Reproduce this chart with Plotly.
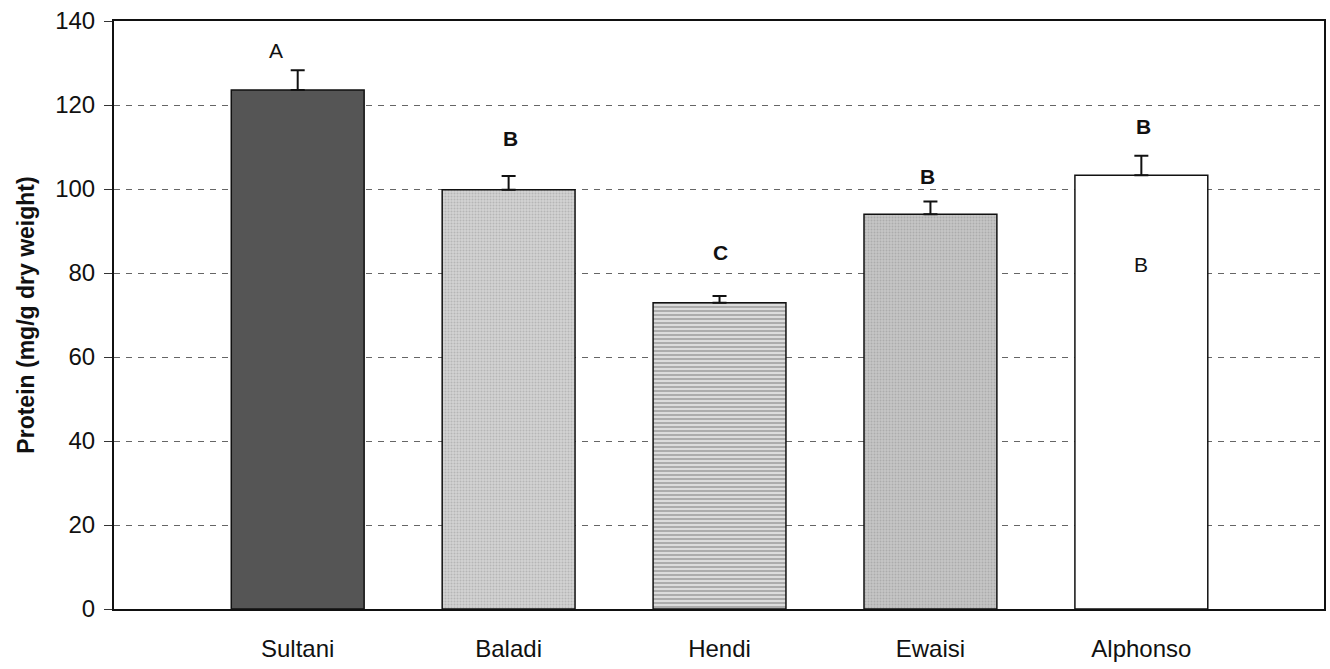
import plotly.graph_objects as go

# Mean protein content per cultivar with standard error (upper bar only)
categories = ["Sultani", "Baladi", "Hendi", "Ewaisi", "Alphonso"]
protein = [123.6, 99.8, 72.9, 94.0, 103.3]
sem = [4.7, 3.3, 1.6, 3.0, 4.6]
letters = ["A", "<b>B</b>", "<b>C</b>", "<b>B</b>", "<b>B</b>"]
letter_y = [133, 112, 85, 103, 115]
letter_dx = [-22, 2, 1, -3, 2]
y_ticks = [0, 20, 40, 60, 80, 100, 120, 140]

FONT = "Liberation Sans, Arial, sans-serif"

fills = ["#555555", "#cbcbcb", "#cfcfcf", "#c2c2c2", "#ffffff"]
patterns = [
    dict(shape=""),
    dict(shape=".", bgcolor="#d2d2d2", fgcolor="#9a9a9a", size=3, solidity=0.35),
    dict(shape="-", bgcolor="#dcdcdc", fgcolor="#707070", size=4, solidity=0.45),
    dict(shape=".", bgcolor="#c6c6c6", fgcolor="#929292", size=3, solidity=0.35),
    dict(shape=""),
]

fig = go.Figure()
for i, cat in enumerate(categories):
    fig.add_trace(go.Bar(
        x=[cat], y=[protein[i]],
        width=0.63,
        marker=dict(color=fills[i], line=dict(color="#111111", width=1.5),
                    pattern=patterns[i]),
        error_y=dict(type="data", array=[sem[i]], arrayminus=[0], symmetric=False,
                     color="#111111", thickness=2, width=7),
        showlegend=False,
    ))

# Significance letters above bars
for cat, lab, ly, dx in zip(categories, letters, letter_y, letter_dx):
    fig.add_annotation(x=cat, y=ly, text=lab, showarrow=False, xshift=dx,
                       font=dict(family=FONT, size=21, color="#111111"))
# Letter printed inside the last bar
fig.add_annotation(x=categories[4], y=82, text="B", showarrow=False,
                   font=dict(family=FONT, size=21, color="#111111"))

fig.update_layout(
    width=1330, height=669,
    margin=dict(l=114, r=4, t=21, b=60),
    paper_bgcolor="white", plot_bgcolor="white",
    bargap=0.37,
    font=dict(family=FONT, size=24, color="#111111"),
    xaxis=dict(
        type="category", range=[-0.871, 4.866],
        showline=True, linecolor="#111111", linewidth=2, mirror=True,
        ticks="", showgrid=False,
        tickfont=dict(family=FONT, size=24, color="#111111"),
        ticklabelstandoff=17,
    ),
    yaxis=dict(
        range=[0, 140], tickvals=y_ticks,
        showline=True, linecolor="#111111", linewidth=2, mirror=True,
        ticks="outside", ticklen=8, tickcolor="#333333", tickwidth=1,
        showgrid=True, gridcolor="#666666", gridwidth=1, griddash="6px,6px",
        zeroline=False,
        tickfont=dict(family=FONT, size=24, color="#111111"),
        ticklabelstandoff=4,
        title=dict(text="<b>Protein (mg/g dry weight)</b>",
                   font=dict(family=FONT, size=23, color="#111111"),
                   standoff=14),
    ),
)

fig.write_html("out.html")
